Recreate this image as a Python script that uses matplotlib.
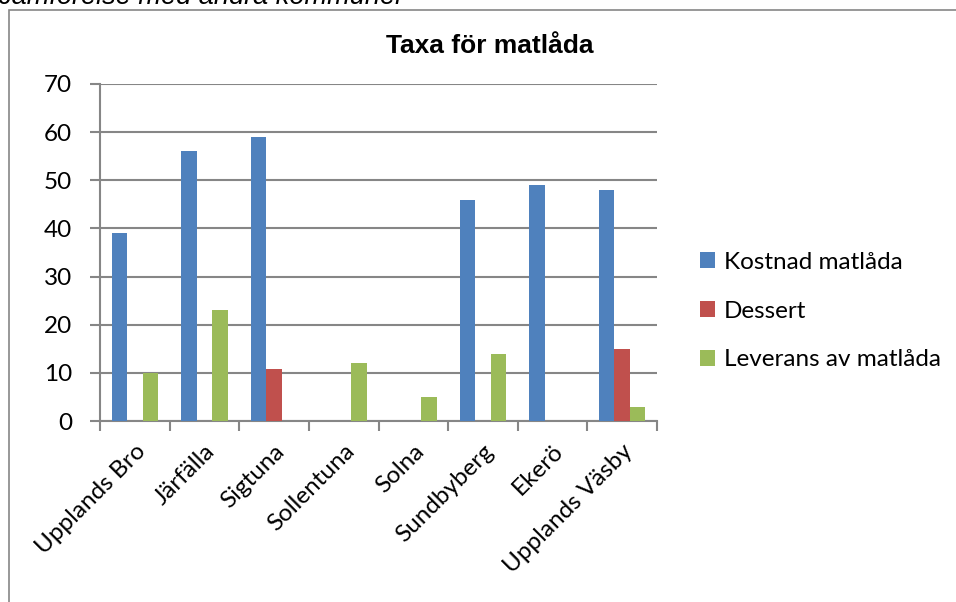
import matplotlib
matplotlib.use("Agg")
import matplotlib.pyplot as plt
import numpy as np
from matplotlib.patches import Rectangle, Patch

categories = ["Upplands Bro", "Järfälla", "Sigtuna", "Sollentuna", "Solna",
              "Sundbyberg", "Ekerö", "Upplands Väsby"]
kostnad = [39, 56, 59, 0, 0, 46, 49, 48]
dessert = [0, 0, 10.7, 0, 0, 0, 0, 15]
leverans = [10, 23, 0, 12, 5, 14, 0, 3]
series_names = ["Kostnad matlåda", "Dessert", "Leverans av matlåda"]
colors = ["#4F81BD", "#C0504D", "#9BBB59"]
title = "Taxa för matlåda"
caption = "Jämförelse med andra kommuner"

W, H = 956, 602
fig = plt.figure(figsize=(W / 100, H / 100), dpi=100)
axcol = "#868686"
fsz = 17.5

# outer chart frame (clipped at right/bottom)
fig.patches.append(Rectangle((9 / W, 1 - 620 / H), (980 - 9) / W, (620 - 10) / H,
                             transform=fig.transFigure, fill=False,
                             edgecolor=axcol, linewidth=1.2))

fig.text(-2 / W, 1 - 4 / H, caption, fontsize=19.5, style="italic",
         family="Liberation Sans", va="baseline", ha="left")

left, right, top, bottom = 100, 657, 84, 421
ax = fig.add_axes([left / W, 1 - bottom / H, (right - left) / W, (bottom - top) / H])

x = np.arange(len(categories))
w = 1 / 4.5
for i, (vals, c, name) in enumerate(zip([kostnad, dessert, leverans], colors, series_names)):
    ax.bar(x + (i - 1) * w, vals, width=w, color=c, label=name, zorder=3)

ax.set_xlim(-0.5, len(categories) - 0.5)
ax.set_ylim(0, 70)
ax.set_yticks(range(0, 71, 10))
ax.yaxis.grid(True, color=axcol, linewidth=1.5, zorder=0)
ax.set_axisbelow(True)
for s in ["top", "right"]:
    ax.spines[s].set_visible(False)
for s in ["left", "bottom"]:
    ax.spines[s].set_color(axcol)
    ax.spines[s].set_linewidth(1.5)

ax.set_xticks(np.arange(-0.5, len(categories), 1.0))
ax.set_xticklabels([])
ax.set_xticks(x, minor=True)
ax.set_xticklabels(categories, minor=True, rotation=45, ha="right", va="top",
                   rotation_mode="anchor", family="Lato", fontsize=fsz)
ax.tick_params(axis="x", which="major", length=7, width=1.5, color=axcol, direction="out")
ax.tick_params(axis="x", which="minor", length=0, pad=14)
ax.tick_params(axis="y", length=7, width=1.5, color=axcol, labelsize=fsz, pad=13)
for lab in ax.get_yticklabels():
    lab.set_family("Lato")

fig.text(490 / W, 1 - 46 / H, title, fontsize=19, fontweight="bold",
         family="Liberation Sans", ha="center", va="center")

handles = [Patch(facecolor=c, label=n) for c, n in zip(colors, series_names)]
fig.legend(handles=handles, loc="center left", bbox_to_anchor=(700 / W, 1 - 311 / H),
           frameon=False, prop={"family": "Lato", "size": fsz},
           handlelength=0.62, handleheight=0.62, handletextpad=0.35,
           labelspacing=1.15, borderaxespad=0, borderpad=0)

fig.savefig("out.png", dpi=100)
